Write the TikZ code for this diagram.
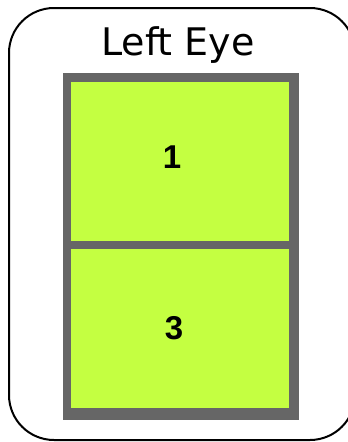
\documentclass[tikz,border=0pt]{standalone}
\usepackage{fontspec}
\setmainfont{DejaVu Sans}
\newfontfamily\numfont{Liberation Sans}
\definecolor{eyegreen}{HTML}{C4FF41}
\definecolor{framegray}{HTML}{666666}
\begin{document}
\begin{tikzpicture}[x=1pt,y=-1pt,
  panel/.style={fill=eyegreen,draw=none},
  numlabel/.style={font=\numfont\bfseries\fontsize{33}{33}\selectfont,text=black,anchor=base,inner sep=0pt}]
\useasboundingbox (0,0) rectangle (348,442);
\draw[line width=2pt,rounded corners=45pt] (9,8) rectangle (355,440);
\node[font=\fontsize{38}{38}\selectfont,anchor=base,inner sep=0pt] (title) at (178,55) {Left Eye};
\fill[framegray] (63,73) rectangle (299,420);
\fill[panel] (71,82) rectangle (289,241);
\fill[panel] (71,249) rectangle (289,408);
\node[numlabel] (one) at (172,168) {1};
\node[numlabel] (three) at (174,339) {3};
\end{tikzpicture}
\end{document}
